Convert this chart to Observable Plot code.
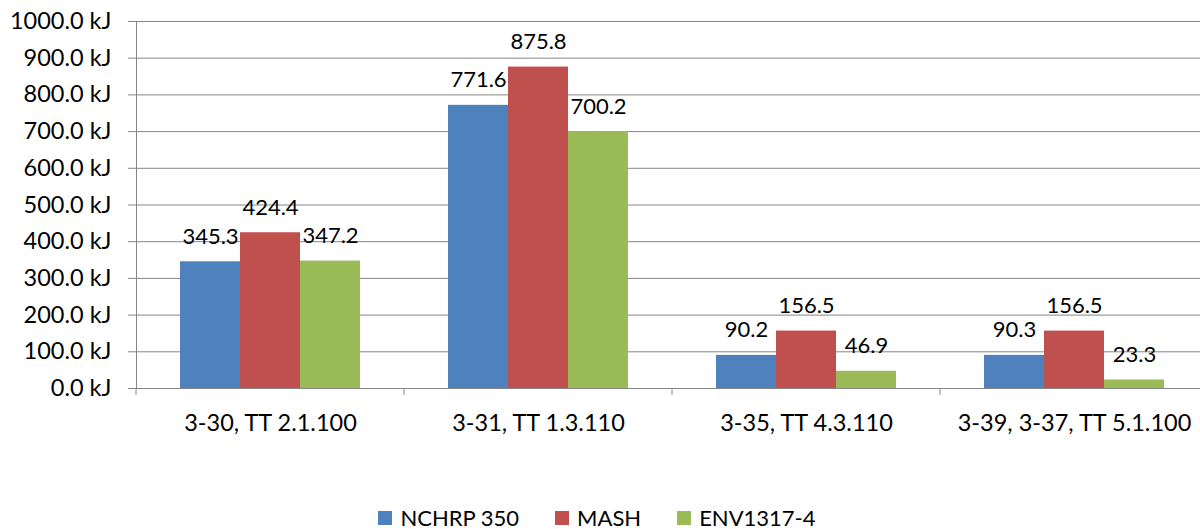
<!DOCTYPE html>
<html><head><meta charset="utf-8">
<script src="https://cdn.jsdelivr.net/npm/d3@7"></script>
<script src="https://cdn.jsdelivr.net/npm/@observablehq/plot@0.6"></script>
<style>
body{margin:0;background:#fff;overflow:hidden;font-family:Lato,"Open Sans",sans-serif;color:#000}
#chart svg{max-width:none!important;display:block}
#legend{display:flex;justify-content:center;align-items:center;padding-top:46px;font-size:22px;line-height:24px;margin-left:-6px}
.item{display:flex;align-items:center;margin:0 18px}
.sw{width:14px;height:14px;margin-right:8px}
</style>
</head><body>
<div id="chart"></div>
<div id="legend"></div>
<script>
const categories = ["3-30, TT 2.1.100", "3-31, TT 1.3.110", "3-35, TT 4.3.110", "3-39, 3-37, TT 5.1.100"];
const series = ["NCHRP 350", "MASH", "ENV1317-4"];
const nchrp350 = [345.3, 771.6, 90.2, 90.3];
const mash = [424.4, 875.8, 156.5, 156.5];
const env1317 = [347.2, 700.2, 46.9, 23.3];
const colors = ["#4F81BD", "#C0504D", "#9BBB59"];
const yTicks = d3.range(0, 1001, 100);

const values = [nchrp350, mash, env1317];
const data = categories.flatMap((c, i) => series.map((s, j) => ({category: c, series: s, value: values[j][i]})));

const grey = "#868686";

function boundaryTicks(index, scales, vals, dimensions) {
  const g = d3.create("svg:g");
  const y0 = scales.y(0);
  g.append("line")
    .attr("x1", dimensions.marginLeft).attr("x2", dimensions.marginLeft)
    .attr("y1", y0).attr("y2", y0 + 7)
    .attr("stroke", grey);
  return g.node();
}

const chart = Plot.plot({
  width: 1208,
  height: 460,
  marginLeft: 136,
  marginRight: 0,
  marginTop: 21,
  marginBottom: 72,
  style: {fontFamily: "Lato, 'Open Sans', sans-serif", fontSize: "22px", color: "#000", background: "#fff"},
  fx: {domain: categories, padding: 0, label: null},
  x: {domain: series, paddingInner: 0, paddingOuter: 0.733, axis: null},
  y: {domain: [0, 1000], label: null},
  color: {domain: series, range: colors},
  marks: [
    Plot.gridY(yTicks, {stroke: grey, strokeOpacity: 1}),
    Plot.barY(data, {fx: "category", x: "series", y: "value", fill: "series"}),
    Plot.ruleY([0], {stroke: grey}),
    Plot.frame({anchor: "left", stroke: grey, facetAnchor: "left"}),
    boundaryTicks,
    Plot.text(data, {fx: "category", x: "series", y: "value", text: d => d.value.toFixed(1), dy: -25, fontSize: 22, fill: "#000"}),
    Plot.axisY(yTicks, {tickSize: 8, tickPadding: 17, stroke: grey, fill: "#000", fontSize: 23.5, tickFormat: d => d.toFixed(1) + " kJ", label: null}),
    Plot.axisFx({anchor: "bottom", tickSize: 0, tickPadding: 26, fontSize: 23.5, fill: "#000", label: null})
  ]
});
document.getElementById("chart").appendChild(chart);

const legend = d3.select("#legend");
series.forEach((s, i) => {
  const it = legend.append("div").attr("class", "item");
  it.append("div").attr("class", "sw").style("background", colors[i]);
  it.append("span").text(s);
});
</script>
</body></html>
